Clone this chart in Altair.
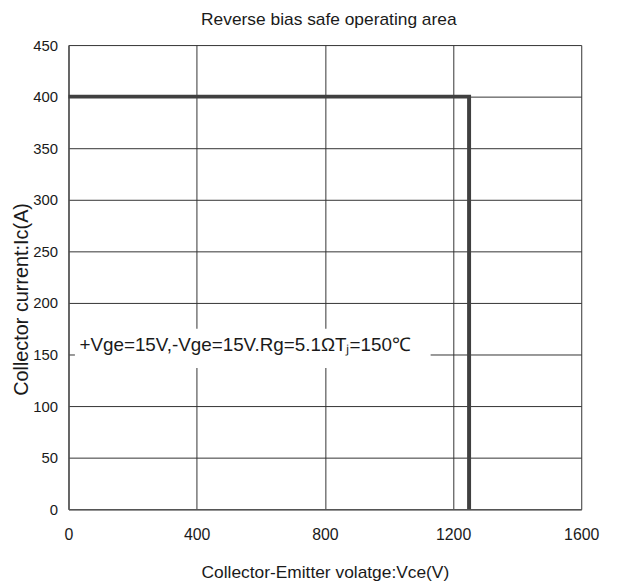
import altair as alt
import pandas as pd

# Data
x_ticks = [0, 400, 800, 1200, 1600]
y_ticks = [0, 50, 100, 150, 200, 250, 300, 350, 400, 450]
soa_vce = [0, 1250, 1250]
soa_ic = [400, 400, 0]
soa_order = [0, 1, 2]

note_text = ["+Vge=15V,-Vge=15V.Rg=5.1ΩTⱼ=150℃"]
note_x = [34]
note_y = [159]
# white background behind note (data units)
box_x = [20]
box_x2 = [1130]
box_y = [137]
box_y2 = [175]

FONT = "Liberation Sans, Arial, sans-serif"
GRID = "#333333"

df_line = pd.DataFrame({"vce": soa_vce, "ic": soa_ic, "o": soa_order})
df_note = pd.DataFrame({"t": note_text, "x": note_x, "y": note_y})
df_box = pd.DataFrame({"x": box_x, "x2": box_x2, "y": box_y, "y2": box_y2})

xscale = alt.Scale(domain=[0, 1600], nice=False, zero=False)
yscale = alt.Scale(domain=[0, 450], nice=False, zero=False)

xaxis = alt.Axis(
    values=x_ticks, format="d", title="Collector-Emitter volatge:Vce(V)", grid=True,
    gridColor=GRID, gridWidth=1, gridOpacity=1,
    domainColor="#555555", domainWidth=1.5, ticks=False, labelFlush=False,
    labelFont=FONT, labelFontSize=16, labelColor="#1a1a1a", labelPadding=18,
    titleFont=FONT, titleFontSize=17.5, titleFontWeight="normal", titleColor="#1a1a1a",
    titlePadding=21,
)
yaxis = alt.Axis(
    values=y_ticks, format="d", title="Collector current:Ic(A)", grid=True,
    gridColor=GRID, gridWidth=1, gridOpacity=1,
    domainColor="#555555", domainWidth=1.5, ticks=False, labelFlush=False,
    labelFont=FONT, labelFontSize=15, labelColor="#1a1a1a", labelPadding=11,
    titleFont=FONT, titleFontSize=20, titleFontWeight="normal", titleColor="#1a1a1a",
    titleX=-47, titleY=256, titleBaseline="middle", titleAlign="center",
)

box = alt.Chart(df_box).mark_rect(fill="white").encode(
    x=alt.X("x:Q", scale=xscale, axis=xaxis),
    x2="x2:Q",
    y=alt.Y("y:Q", scale=yscale, axis=yaxis),
    y2="y2:Q",
)

line = alt.Chart(df_line).mark_line(
    color="#404040", strokeWidth=4, strokeJoin="miter", strokeCap="butt"
).encode(
    x=alt.X("vce:Q", scale=xscale),
    y=alt.Y("ic:Q", scale=yscale),
    order="o:O",
)

note = alt.Chart(df_note).mark_text(
    align="left", baseline="middle", font=FONT, fontSize=19, color="#1a1a1a"
).encode(
    x=alt.X("x:Q", scale=xscale),
    y=alt.Y("y:Q", scale=yscale),
    text="t:N",
)

chart = alt.layer(box, line, note).properties(
    width=517,
    height=468,
    title=alt.TitleParams(
        "Reverse bias safe operating area", font=FONT, fontSize=17.5,
        fontWeight="normal", color="#1a1a1a", offset=10, dx=4,
    ),
    autosize=alt.AutoSizeParams(type="none"),
    padding={"left": 61, "top": 35, "right": 30, "bottom": 70},
).configure_view(stroke=None)

chart.save("out.html", embed_options={"renderer": "svg", "actions": False})
